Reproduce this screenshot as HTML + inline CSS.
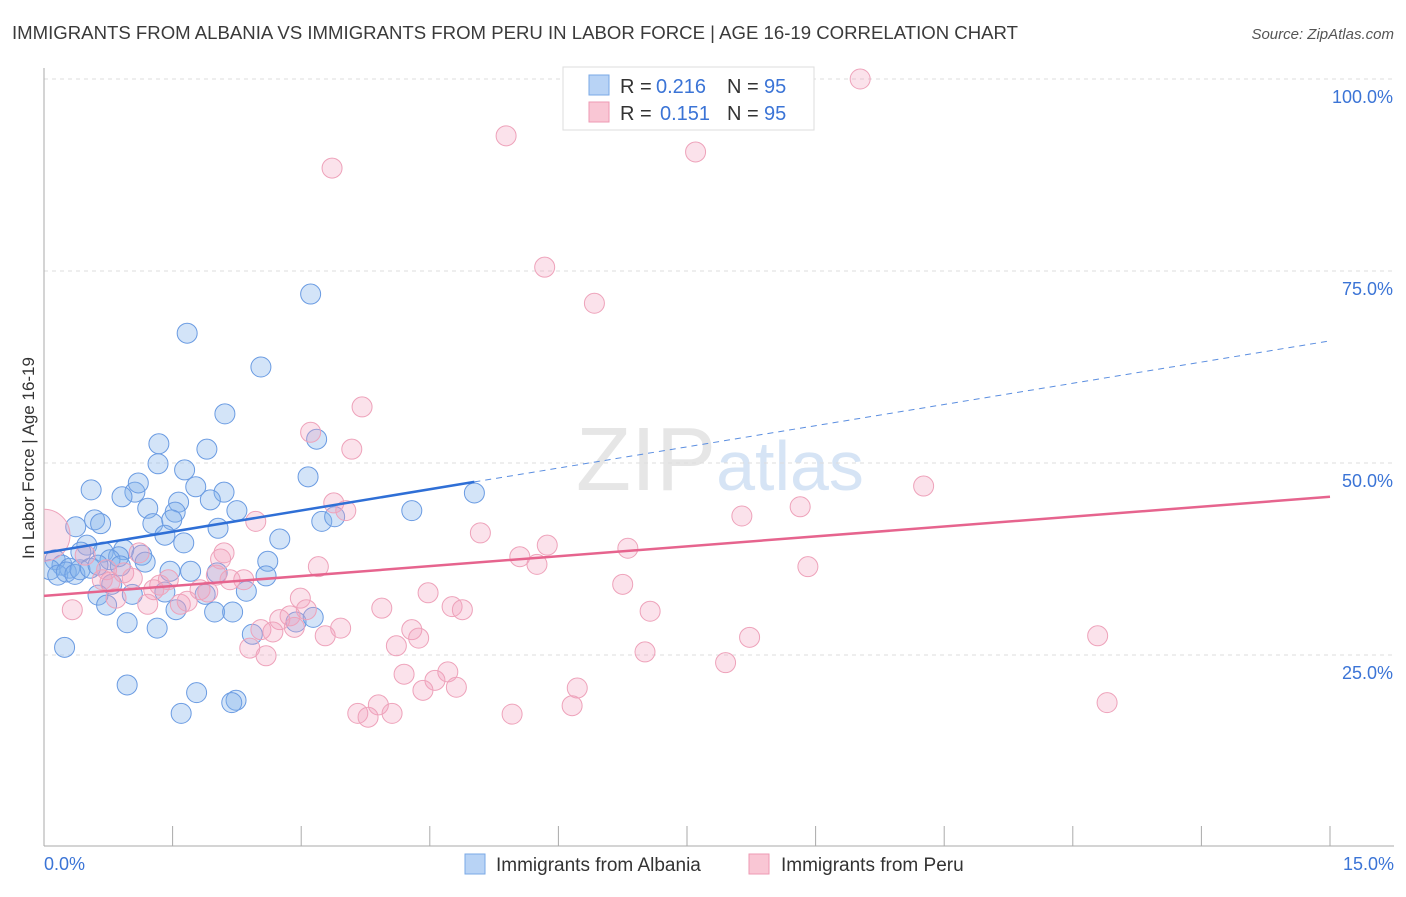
<!DOCTYPE html>
<html><head><meta charset="utf-8">
<style>
body{margin:0;background:#fff;font-family:"Liberation Sans",sans-serif;}
svg text{font-family:"Liberation Sans",sans-serif;}
</style></head>
<body>
<svg id="chart" width="1406" height="892" xmlns="http://www.w3.org/2000/svg">
<defs><clipPath id="plotclip"><rect x="44" y="60" width="1360" height="786"/></clipPath></defs>
<text x="12" y="39" font-size="18" fill="#3a3a3a" textLength="1006" lengthAdjust="spacingAndGlyphs">IMMIGRANTS FROM ALBANIA VS IMMIGRANTS FROM PERU IN LABOR FORCE | AGE 16-19 CORRELATION CHART</text>
<text x="1394" y="39" font-size="15" fill="#555" text-anchor="end" font-style="italic">Source: ZipAtlas.com</text>
<text x="720" y="490" font-size="90" fill="#e6e6e6" text-anchor="middle" font-family="Liberation Serif">ZIP<tspan fill="#d6e4f5" font-family="Liberation Sans" font-size="70">atlas</tspan></text>
<g id="grid"></g>
<g id="axes"></g>
<g id="pts" clip-path="url(#plotclip)"></g>
<g id="lines"></g>
<text transform="translate(34,458) rotate(-90)" font-size="17" fill="#333" text-anchor="middle">In Labor Force | Age 16-19</text>
<g>
<rect x="563" y="67" width="251" height="63" fill="#fff" stroke="#ddd"/>
<rect x="589" y="75" width="20" height="20" fill="#b8d3f5" stroke="#7aa8e6"/>
<rect x="589" y="102" width="20" height="20" fill="#f9c6d4" stroke="#ee9ab3"/>
<text x="620" y="93" font-size="20" fill="#333">R =</text>
<text x="656" y="93" font-size="20" fill="#3b74d6">0.216</text>
<text x="727" y="93" font-size="20" fill="#333">N =</text>
<text x="764" y="93" font-size="20" fill="#3b74d6">95</text>
<text x="620" y="120" font-size="20" fill="#333">R =</text>
<text x="660" y="120" font-size="20" fill="#3b74d6">0.151</text>
<text x="727" y="120" font-size="20" fill="#333">N =</text>
<text x="764" y="120" font-size="20" fill="#3b74d6">95</text>
</g>
<g>
<rect x="465" y="854" width="20" height="20" fill="#b8d3f5" stroke="#7aa8e6"/>
<text x="496" y="871" font-size="19" fill="#333">Immigrants from Albania</text>
<rect x="749" y="854" width="20" height="20" fill="#f9c6d4" stroke="#ee9ab3"/>
<text x="781" y="871" font-size="19" fill="#333">Immigrants from Peru</text>
</g>
</svg>
<script>
const yTicks=[25,50,75,100];
const yTickLabels=["25.0%","50.0%","75.0%","100.0%"];
const xTickLabels=["0.0%","15.0%"];
const albaniaX=[3.11,1.67,2.53,2.11,3.18,1.34,1.90,1.33,1.64,3.08,0.55,1.06,1.77,2.10,1.10,0.91,1.57,1.94,1.21,1.53,2.25,4.29,5.02,0.37,0.59,0.66,1.27,1.49,2.03,3.24,3.39,1.41,1.63,2.75,0.50,0.69,0.43,0.93,1.14,0.87,0.77,1.18,2.61,0.13,0.21,0.30,0.07,0.16,0.26,0.36,0.42,0.54,0.63,0.89,1.47,1.71,2.02,2.59,0.79,0.63,1.03,1.41,1.88,2.36,0.73,1.54,1.99,2.20,0.97,1.32,2.43,2.94,3.14,0.24,0.97,1.78,2.24,2.19,1.60];
const albaniaY=[72.0,66.9,62.5,56.4,53.1,52.5,51.8,49.9,49.1,48.2,46.5,46.2,46.9,46.2,47.4,45.6,44.9,45.2,44.1,43.6,43.8,43.8,46.1,41.7,42.6,42.1,42.1,42.6,41.5,42.4,43.0,40.6,39.6,40.1,39.3,38.4,38.4,38.7,38.0,37.8,37.4,37.1,37.2,37.4,36.7,36.3,36.1,35.4,35.8,35.5,36.1,36.3,36.7,36.6,35.9,35.9,35.7,35.3,34.2,32.8,32.9,33.2,32.9,33.3,31.5,30.9,30.6,30.6,29.2,28.5,27.7,29.3,29.9,26.0,21.1,20.1,19.1,18.8,17.4];
const peruX=[9.52,5.39,7.60,3.36,5.84,6.42,3.71,3.11,3.59,10.26,3.38,3.52,8.82,8.14,2.47,5.09,5.87,5.55,5.75,6.81,8.91,3.20,2.10,2.06,1.11,0.48,0.73,0.93,1.03,0.68,0.77,2.01,2.33,2.17,1.45,1.35,1.28,1.82,1.91,1.59,1.67,1.21,0.84,2.99,4.48,6.75,3.94,3.06,2.87,2.75,2.53,2.67,2.92,3.46,3.28,4.29,4.37,4.76,4.88,7.07,8.23,12.29,7.01,7.95,2.40,2.59,4.11,4.71,4.20,4.56,4.42,4.81,6.22,3.90,6.16,3.66,3.78,4.06,5.46,12.40,0.33];
const peruY=[100.0,92.6,90.5,88.4,75.5,70.8,57.3,54.0,51.8,47.0,44.8,43.8,44.3,43.1,42.4,40.9,39.3,37.8,36.8,38.9,36.5,36.5,38.3,37.5,38.3,38.0,36.1,35.7,35.0,34.8,34.5,35.4,34.8,34.8,34.8,34.1,33.5,33.5,33.2,31.6,32.0,31.6,32.4,32.4,33.1,34.2,31.1,30.9,30.1,29.6,28.3,28.0,28.6,28.5,27.5,28.3,27.2,31.3,30.9,30.7,27.3,27.5,25.4,24.0,25.9,24.9,26.2,22.8,22.5,21.7,20.4,20.8,20.7,18.5,18.4,17.4,16.9,17.4,17.3,18.8,30.9];
const peruBigX=[0];
const peruBigY=[40.6];
const albaniaTrend=[38.3,65.9]; // y at x=0, x=15
const albaniaSolidEnd=[5.02];
const peruTrend=[32.7,45.6];

const NS="http://www.w3.org/2000/svg";
const X0=44,X1=1330,Y0=847,PXY=7.68;
const sx=v=>X0+(v/15)*(X1-X0);
const sy=v=>Y0-v*PXY;
function mk(tag,attrs,parent){const e=document.createElementNS(NS,tag);for(const k in attrs)e.setAttribute(k,attrs[k]);document.getElementById(parent).appendChild(e);return e;}

yTicks.forEach((t,i)=>{
  const g=mk('line',{x1:X0,x2:1394,y1:sy(t),y2:sy(t),stroke:'#ddd','stroke-dasharray':'4,4'},'grid');
  
  
  const l=mk('text',{x:1393,y:sy(t)+24,'font-size':18,fill:'#3b74d6','text-anchor':'end'},'axes');
  l.textContent=yTickLabels[i];
  
  
});
let a=mk('line',{x1:X0,x2:X0,y1:68,y2:846,stroke:'#aaa'},'axes');


a=mk('line',{x1:X0,x2:1394,y1:846,y2:846,stroke:'#aaa'},'axes');


for(let i=0;i<=10;i++){
  const x=X0+i*(X1-X0)/10;
  const t=mk('line',{x1:x,x2:x,y1:826,y2:846,stroke:'#aaa'},'axes');
  
  
}
[[0,44,'start'],[15,1394,'end']].forEach((d,i)=>{
  const l=mk('text',{x:d[1],y:870,'font-size':18,fill:'#3b74d6','text-anchor':d[2]},'axes');
  l.textContent=xTickLabels[i];
  
  
});
albaniaX.forEach((x,i)=>{
  const c=mk('circle',{cx:sx(x),cy:sy(albaniaY[i]),r:10,fill:'rgba(130,178,235,0.35)',stroke:'#6a9be2','stroke-width':1},'pts');
  
  
});
peruX.forEach((x,i)=>{
  const c=mk('circle',{cx:sx(x),cy:sy(peruY[i]),r:10,fill:'rgba(242,160,188,0.3)',stroke:'#eea2ba','stroke-width':1},'pts');
  
  
});
peruBigX.forEach((x,i)=>{
  const c=mk('circle',{cx:sx(x),cy:sy(peruBigY[i]),r:26,fill:'rgba(242,160,188,0.3)',stroke:'#eea2ba','stroke-width':1},'pts');
  
  
});
const ya=x=>albaniaTrend[0]+(albaniaTrend[1]-albaniaTrend[0])*x/15;
const yp=x=>peruTrend[0]+(peruTrend[1]-peruTrend[0])*x/15;
let ln=mk('line',{x1:sx(0),y1:sy(ya(0)),x2:sx(albaniaSolidEnd[0]),y2:sy(ya(albaniaSolidEnd[0])),stroke:'#2f6fd6','stroke-width':2.5},'lines');


ln=mk('line',{x1:sx(albaniaSolidEnd[0]),y1:sy(ya(albaniaSolidEnd[0])),x2:sx(15),y2:sy(ya(15)),stroke:'#5b8ee0','stroke-width':1,'stroke-dasharray':'6,5'},'lines');


ln=mk('line',{x1:sx(0),y1:sy(yp(0)),x2:sx(15),y2:sy(yp(15)),stroke:'#e6648e','stroke-width':2.5},'lines');


</script>
</body></html>
